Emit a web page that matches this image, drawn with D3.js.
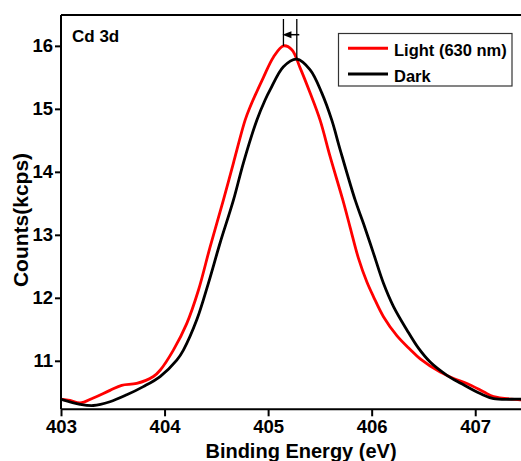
<!DOCTYPE html>
<html>
<head>
<meta charset="utf-8">
<script src="https://cdn.jsdelivr.net/npm/d3@7"></script>
<style>
  body { margin: 0; background: #fff; }
  svg { display: block; }
  text { font-family: "Liberation Sans", Arial, sans-serif; font-weight: bold; }
</style>
</head>
<body>
<div id="chart"></div>
<script>
const width = 521, height = 461;

// Light (630 nm) spectrum
const lightEnergy = [403.000, 403.087, 403.184, 403.312, 403.473, 403.586, 403.731, 403.892, 403.957, 404.085,
    404.214, 404.327, 404.440, 404.568, 404.665, 404.778, 404.826, 404.955, 405.051, 405.148,
    405.229, 405.309, 405.406, 405.502, 405.599, 405.722, 405.792, 405.872, 405.954, 406.017,
    406.114, 406.243, 406.372, 406.469, 406.662, 406.791, 406.920, 407.080, 407.177, 407.435, 407.502];
const lightCounts = [10.39, 10.37, 10.33, 10.41, 10.53, 10.61, 10.64, 10.75, 10.85, 11.17,
    11.59, 12.12, 12.81, 13.55, 14.14, 14.82, 15.03, 15.50, 15.82, 16.00,
    15.94, 15.65, 15.25, 14.82, 14.24, 13.55, 13.12, 12.63, 12.25, 12.02,
    11.70, 11.40, 11.18, 11.03, 10.82, 10.72, 10.64, 10.51, 10.43, 10.38, 10.37];

// Dark spectrum
const darkEnergy = [403.000, 403.184, 403.312, 403.473, 403.635, 403.795, 403.957, 404.118, 404.182, 404.311,
    404.423, 404.536, 404.665, 404.761, 404.891, 404.971, 405.019, 405.148, 405.277, 405.406,
    405.519, 405.615, 405.696, 405.841, 405.921, 406.017, 406.114, 406.211, 406.340, 406.452,
    406.565, 406.727, 406.865, 407.048, 407.177, 407.435, 407.502];
const darkCounts = [10.39, 10.31, 10.29, 10.35, 10.46, 10.59, 10.75, 11.01, 11.17, 11.65,
    12.23, 12.87, 13.55, 14.14, 14.82, 15.14, 15.30, 15.67, 15.79, 15.62,
    15.25, 14.82, 14.35, 13.55, 13.18, 12.71, 12.23, 11.86, 11.49, 11.20,
    10.98, 10.77, 10.64, 10.48, 10.40, 10.39, 10.38];

const xTicks = [403, 404, 405, 406, 407];
const yTicks = [11, 12, 13, 14, 15, 16];
const seriesNames = ["Light (630 nm)", "Dark"];
const seriesColors = ["#ff0000", "#000000"];

const margin = { left: 61, top: 15, right: 527, bottom: 409.3 };

const x = d3.scaleLinear().domain([403, 407.5]).range([margin.left, margin.right]);
const y = d3.scaleLinear().domain([10.23, 16.49]).range([margin.bottom, margin.top]);

const svg = d3.select("#chart")
    .append("svg")
    .attr("width", width)
    .attr("height", height);

svg.append("clipPath").attr("id", "plot-clip")
    .append("rect")
    .attr("x", margin.left).attr("y", margin.top)
    .attr("width", margin.right - margin.left)
    .attr("height", margin.bottom - margin.top);

// frame (top + right), axes drawn separately
svg.append("path")
    .attr("d", `M${margin.left},${margin.top}H${margin.right}V${margin.bottom}`)
    .attr("fill", "none")
    .attr("stroke", "#000")
    .attr("stroke-width", 2);

const line = d3.line()
    .x(d => x(d[0]))
    .y(d => y(d[1]))
    .curve(d3.curveCatmullRom.alpha(0.5));

const series = [
    d3.zip(lightEnergy, lightCounts),
    d3.zip(darkEnergy, darkCounts)
];

svg.append("g").attr("clip-path", "url(#plot-clip)")
    .selectAll("path")
    .data(series)
    .enter()
    .append("path")
    .attr("d", line)
    .attr("fill", "none")
    .attr("stroke", (d, i) => seriesColors[i])
    .attr("stroke-width", 2.8)
    .attr("stroke-linejoin", "round");

// axes
const xAxis = svg.append("g")
    .attr("transform", `translate(0,${margin.bottom})`)
    .call(d3.axisBottom(x).tickValues(xTicks).tickFormat(d3.format("d")).tickSize(7).tickPadding(4));
const yAxis = svg.append("g")
    .attr("transform", `translate(${margin.left},0)`)
    .call(d3.axisLeft(y).tickValues(yTicks).tickFormat(d3.format("d")).tickSize(6).tickPadding(2));

[xAxis, yAxis].forEach(g => {
    g.select(".domain").attr("stroke-width", 2).attr("stroke", "#000");
    g.selectAll(".tick line").attr("stroke-width", 2).attr("stroke", "#000");
    g.selectAll(".tick text")
        .attr("fill", "#000")
        .style("font-size", "18.5px")
        .style("font-family", "Liberation Sans, Arial, sans-serif")
        .style("font-weight", "bold");
});
xAxis.select(".domain").attr("d", `M${margin.left},0H${margin.right}`);
yAxis.select(".domain").attr("d", `M0,${margin.top}V${margin.bottom}`);

// axis titles
svg.append("text")
    .attr("x", 301)
    .attr("y", 458)
    .attr("text-anchor", "middle")
    .style("font-size", "20px")
    .text("Binding Energy (eV)");

svg.append("text")
    .attr("transform", "translate(28,220) rotate(-90)")
    .attr("text-anchor", "middle")
    .style("font-size", "21px")
    .text("Counts(kcps)");

svg.append("text")
    .attr("x", 72)
    .attr("y", 41.5)
    .style("font-size", "17px")
    .text("Cd 3d");

// peak-shift annotation
const lightPeak = [405.148, 16.00];
const darkPeak = [405.277, 15.79];
const arrowY = 34.7;
const lx = x(lightPeak[0]), dx = x(darkPeak[0]);

svg.append("line")
    .attr("x1", lx).attr("x2", lx)
    .attr("y1", 19).attr("y2", y(lightPeak[1]))
    .attr("stroke", "#000").attr("stroke-width", 1.3);
svg.append("line")
    .attr("x1", dx).attr("x2", dx)
    .attr("y1", 19).attr("y2", y(darkPeak[1]))
    .attr("stroke", "#000").attr("stroke-width", 1.3);
svg.append("line")
    .attr("x1", dx + 2.5).attr("x2", lx + 7)
    .attr("y1", arrowY).attr("y2", arrowY)
    .attr("stroke", "#000").attr("stroke-width", 1.5);
svg.append("path")
    .attr("d", `M${lx - 1},${arrowY}L${lx + 8},${arrowY - 3.5}L${lx + 8},${arrowY + 3.5}Z`)
    .attr("fill", "#000");

// legend
const legend = svg.append("g");
legend.append("rect")
    .attr("x", 338.5).attr("y", 33.5)
    .attr("width", 173.5).attr("height", 52.5)
    .attr("fill", "#fff")
    .attr("stroke", "#333")
    .attr("stroke-width", 1.2);

const items = legend.selectAll(".item")
    .data(seriesNames)
    .enter()
    .append("g")
    .attr("class", "item")
    .attr("transform", (d, i) => `translate(0,${48.3 + i * 25.7})`);
items.append("line")
    .attr("x1", 348).attr("x2", 388)
    .attr("stroke", (d, i) => seriesColors[i])
    .attr("stroke-width", 3);
items.append("text")
    .attr("x", 394)
    .attr("y", 7.7)
    .style("font-size", "16.5px")
    .text(d => d);
</script>
</body>
</html>
